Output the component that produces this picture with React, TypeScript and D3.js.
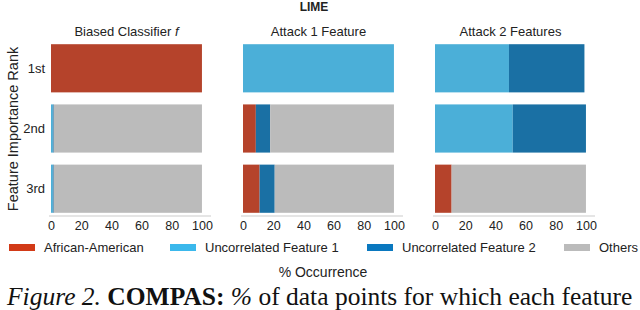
import React, { useEffect, useRef } from 'react';
import * as d3 from 'd3';

const ranks = ['1st', '2nd', '3rd'];
const features = ['African-American', 'Uncorrelated Feature 1', 'Uncorrelated Feature 2', 'Others'];
const panelTitles = ['Biased Classifier ', 'Attack 1 Feature', 'Attack 2 Features'];
const ticks = [0, 20, 40, 60, 80, 100];

// % occurrence per rank, in feature order
const biasedAA = [100, 0, 0];
const biasedF1 = [0, 1.2, 1.2];
const biasedF2 = [0, 0.6, 0.6];
const biasedOthers = [0, 98.2, 98.2];

const attack1AA = [0, 8.5, 11];
const attack1F1 = [100, 0, 0];
const attack1F2 = [0, 9.5, 10];
const attack1Others = [0, 82, 79];

const attack2AA = [0, 0, 11];
const attack2F1 = [49, 51.5, 0];
const attack2F2 = [50, 48.5, 0];
const attack2Others = [0, 0, 89];

const barColors = ['#b5432b', '#4bafd8', '#1a70a4', '#bbbbbb'];
const legendColors = ['#d23a17', '#3bb8ec', '#0a78bf', '#bbbbbb'];

const App = () => {
  const svgRef = useRef<SVGSVGElement>(null);

  useEffect(() => {
    const svg = d3.select(svgRef.current);
    svg.selectAll('*').remove();
    const font = 'Liberation Sans, Arial, sans-serif';

    const panels = [
      [biasedAA, biasedF1, biasedF2, biasedOthers],
      [attack1AA, attack1F1, attack1F2, attack1Others],
      [attack2AA, attack2F1, attack2F2, attack2Others],
    ];
    const panelX = [51, 243, 435];
    const panelW = 160;

    const y = d3.scaleBand().domain(ranks).range([43, 214]).paddingInner(0.2).paddingOuter(0.02);

    svg.append('text').attr('x', 314).attr('y', 11).attr('text-anchor', 'middle')
      .attr('font-family', font).attr('font-size', 12).attr('font-weight', 'bold')
      .attr('fill', '#222').text('LIME');

    panels.forEach((series, p) => {
      const x = d3.scaleLinear().domain([0, 106]).range([panelX[p], panelX[p] + panelW]);
      const g = svg.append('g');
      const stacked = d3.stack<number>().keys(features.map((_, i) => String(i)))
        .value((r, k) => series[+k][r])(d3.range(ranks.length));

      stacked.forEach((layer, fi) => {
        g.selectAll(null).data(layer).join('rect')
          .attr('x', d => x(d[0]))
          .attr('width', d => Math.max(0, x(d[1]) - x(d[0])))
          .attr('y', (d, i) => y(ranks[i])!)
          .attr('height', y.bandwidth())
          .attr('fill', barColors[fi]);
      });

      // axis
      const axis = g.append('g').attr('transform', 'translate(0,216)')
        .call(d3.axisBottom(x).tickValues(ticks).tickSize(0).tickPadding(5));
      axis.select('.domain').attr('stroke', '#dddddd').attr('stroke-width', 1.5)
        .attr('d', `M${panelX[p] - 2},0H${panelX[p] + panelW}`);
      axis.selectAll('text').attr('font-family', font).attr('font-size', 12.5).attr('fill', '#222');

      const title = g.append('text').attr('x', x(50)).attr('y', 36).attr('text-anchor', 'middle')
        .attr('font-family', font).attr('font-size', 13).attr('fill', '#222')
        .text(panelTitles[p]);
      if (p === 0) title.append('tspan').attr('font-style', 'italic').text('f');
    });

    ranks.forEach(r => {
      svg.append('text').attr('x', 45).attr('y', y(r)! + y.bandwidth() / 2 + 4.5)
        .attr('text-anchor', 'end').attr('font-family', font).attr('font-size', 13)
        .attr('fill', '#222').text(r);
    });

    svg.append('text').attr('transform', 'translate(18,129) rotate(-90)')
      .attr('text-anchor', 'middle').attr('font-family', font).attr('font-size', 14.5)
      .attr('fill', '#222').text('Feature Importance Rank');

    // legend
    const legendX = [9, 170, 367, 564];
    features.forEach((f, i) => {
      svg.append('rect').attr('x', legendX[i]).attr('y', 244).attr('width', 26).attr('height', 7)
        .attr('fill', legendColors[i]);
      svg.append('text').attr('x', legendX[i] + 35).attr('y', 252)
        .attr('font-family', font).attr('font-size', 13).attr('fill', '#222').text(f);
    });

    svg.append('text').attr('x', 323).attr('y', 277).attr('text-anchor', 'middle')
      .attr('font-family', font).attr('font-size', 14).attr('fill', '#222').text('% Occurrence');

    const cap = svg.append('text').attr('x', 7).attr('y', 305)
      .attr('font-family', 'Liberation Serif, Times New Roman, serif').attr('font-size', 25.5).attr('fill', '#111');
    cap.append('tspan').attr('font-style', 'italic').text('Figure 2.');
    cap.append('tspan').attr('font-weight', 'bold').text(' COMPAS:');
    cap.append('tspan').attr('font-style', 'italic').text(' %');
    cap.append('tspan').text(' of data points for which each feature');
  }, []);

  return <svg ref={svgRef} width={640} height={310} style={{ position: 'absolute', left: 0, top: 0 }} />;
};

export default App;
